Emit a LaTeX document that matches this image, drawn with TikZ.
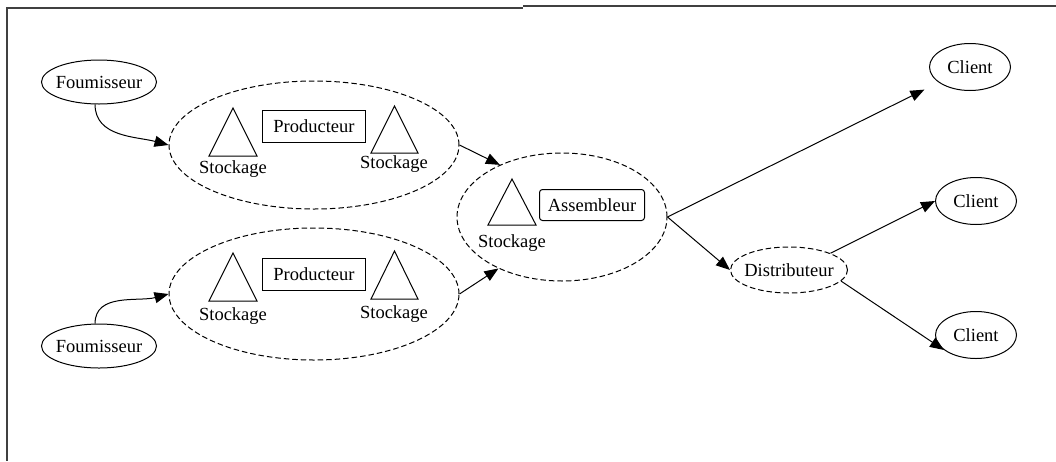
\documentclass[tikz,border=0pt]{standalone}
\usepackage{fontspec}
\setmainfont{Liberation Serif}
\usetikzlibrary{shapes.geometric,arrows.meta}
\begin{document}
\begin{tikzpicture}[x=1pt,y=-1pt,
  every node/.style={font=\fontsize{18.5}{20}\selectfont, inner sep=0pt},
  actor/.style={draw, ellipse, inner xsep=-20pt, line width=1pt},
  group/.style={draw, ellipse, inner xsep=-20pt, dashed, dash pattern=on 5.5pt off 3pt, line width=1pt},
  rolebox/.style={draw, rectangle, line width=1pt},
  stock/.style={draw, line width=1pt},
  flow/.style={-{Triangle[length=14pt,width=11pt]}, line width=1pt},
  frameline/.style={line width=1.6pt, draw=black!75}]
\useasboundingbox (0,0) rectangle (1056,461);

% page frame
\draw[frameline] (6,8) -- (523,8);
\draw[frameline] (523,6) -- (1056,6);
\draw[frameline] (7,8) -- (7,461);

% suppliers
\node[actor, minimum width=115pt, minimum height=44pt] (f1) at (99,82) {Foumisseur};
\node[actor, minimum width=115pt, minimum height=44pt] (f2) at (99,346) {Foumisseur};

% producer groups
\node[group, minimum width=290pt, minimum height=128pt] (p1) at (314,145) {};
\node[group, minimum width=290pt, minimum height=132pt] (p2) at (314,294) {};

\node[rolebox, minimum width=103pt, minimum height=32pt] (b1) at (314,126) {Producteur};
\node[rolebox, minimum width=103pt, minimum height=32pt] (b2) at (314,274) {Producteur};

% storage triangles
\draw[stock] (209,156) -- (257,156) -- (233,108) -- cycle;
\draw[stock] (371,153) -- (418,153) -- (394.5,106) -- cycle;
\draw[stock] (209,301) -- (257,301) -- (233,253) -- cycle;
\draw[stock] (371,299) -- (418,299) -- (394.5,251) -- cycle;
\node (s11) at (233,169) {Stockage};
\node (s12) at (394,164) {Stockage};
\node (s21) at (233,316) {Stockage};
\node (s22) at (394,314) {Stockage};

% assembler group
\node[group, minimum width=210pt, minimum height=128pt] (asm) at (562,217) {};
\draw[stock] (488,225) -- (536,225) -- (512,179) -- cycle;
\node (s3) at (512,243) {Stockage};
\node[rolebox, rounded corners=3pt, minimum width=105pt, minimum height=31pt] (b3) at (592,205) {Assembleur};

% distribution
\node[group, minimum width=117pt, minimum height=46pt] (dist) at (789,270) {Distributeur};
\node[actor, minimum width=81pt, minimum height=47pt] (c1) at (970,67) {Client};
\node[actor, minimum width=81pt, minimum height=47pt] (c2) at (976,201) {Client};
\node[actor, minimum width=81pt, minimum height=47pt] (c3) at (976,335) {Client};

% flows
\draw[flow] (f1.260) to[out=-90, in=165] (p1.west);
\draw[flow] (f2.100) to[out=90, in=195] (p2.west);
\draw[flow] (p1.east) -- (asm.140);
\draw[flow] (p2.east) -- (asm.219);
\draw[flow, shorten >=16pt] (asm.east) -- (c1);
\draw[flow] (asm.east) -- (dist.west);
\draw[flow] (dist.22) -- (c2.west);
\draw[flow] (dist.-12) -- (c3.205);
\end{tikzpicture}
\end{document}
